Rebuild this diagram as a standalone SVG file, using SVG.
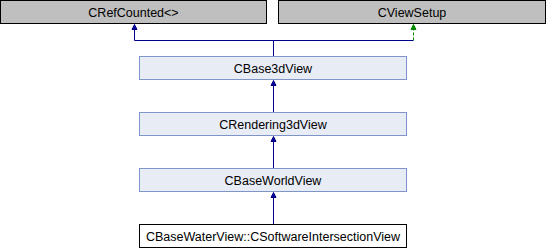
<svg xmlns="http://www.w3.org/2000/svg" width="546" height="248" viewBox="0 0 546 248">
  <style>
    .box-ext { fill: #bfbfbf; stroke: #000000; stroke-width: 1; }
    .box-cls { fill: #e8ecf5; stroke: #7f95c9; stroke-width: 1; }
    .box-cur { fill: #ffffff; stroke: #000000; stroke-width: 1; }
    .lbl { font-family: "Liberation Sans", Arial, sans-serif; font-size: 12.5px; fill: #000000; text-anchor: middle; }
    .pub { fill: none; stroke: #00008b; stroke-width: 1; }
    .prot { fill: none; stroke: #008a00; stroke-width: 1; stroke-dasharray: 3 2; }
    .head-pub { fill: #00008b; stroke: #00008b; stroke-width: 1; }
    .head-prot { fill: #008a00; stroke: #008a00; stroke-width: 1; }
  </style>

  <!-- inheritance edges -->
  <g id="edges">
    <path class="pub" d="M273.5,56.5 V40.5 M134.5,40.5 H413.5 M134.5,40.5 V29"/>
    <path class="head-pub" d="M134.5,24.5 L132,29.5 L137,29.5 Z"/>
    <path class="prot" d="M413.5,40.5 V29"/>
    <path class="head-prot" d="M413.5,24.5 L411,29.5 L416,29.5 Z"/>

    <path class="pub" d="M273.5,112.5 V85"/>
    <path class="head-pub" d="M273.5,80.5 L271,85.5 L276,85.5 Z"/>

    <path class="pub" d="M273.5,168.5 V141"/>
    <path class="head-pub" d="M273.5,136.5 L271,141.5 L276,141.5 Z"/>

    <path class="pub" d="M273.5,224.5 V197"/>
    <path class="head-pub" d="M273.5,192.5 L271,197.5 L276,197.5 Z"/>
  </g>

  <g id="CRefCounted">
    <rect class="box-ext" x="0.5" y="0.5" width="266" height="23"/>
    <text class="lbl" x="133.5" y="16.5">CRefCounted&lt;&gt;</text>
  </g>

  <g id="CViewSetup">
    <rect class="box-ext" x="278.5" y="0.5" width="267" height="23"/>
    <text class="lbl" x="412" y="16.5">CViewSetup</text>
  </g>

  <g id="CBase3dView">
    <rect class="box-cls" x="139.5" y="56.5" width="267" height="23"/>
    <text class="lbl" x="273" y="72.5">CBase3dView</text>
  </g>

  <g id="CRendering3dView">
    <rect class="box-cls" x="139.5" y="112.5" width="267" height="23"/>
    <text class="lbl" x="273" y="128.5">CRendering3dView</text>
  </g>

  <g id="CBaseWorldView">
    <rect class="box-cls" x="139.5" y="168.5" width="267" height="23"/>
    <text class="lbl" x="273" y="184.5">CBaseWorldView</text>
  </g>

  <g id="CSoftwareIntersectionView">
    <rect class="box-cur" x="139.5" y="224.5" width="267" height="23"/>
    <text class="lbl" x="273" y="240.5">CBaseWaterView::CSoftwareIntersectionView</text>
  </g>
</svg>
